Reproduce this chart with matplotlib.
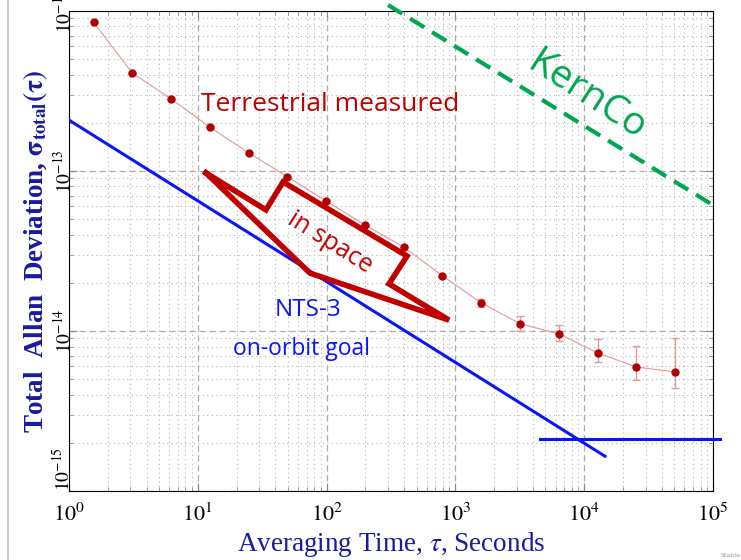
import numpy as np
import matplotlib
matplotlib.use("Agg")
import matplotlib.pyplot as plt
from matplotlib.lines import Line2D

# terrestrial measured total deviation
tau = [1.55, 3.1, 6.2, 12.4, 24.8, 49.6, 99, 198, 397, 794, 1587, 3175, 6350, 12700, 25400, 50800]
sigma = [8.5e-13, 4.1e-13, 2.82e-13, 1.88e-13, 1.30e-13, 9.2e-14, 6.5e-14, 4.6e-14,
         3.35e-14, 2.21e-14, 1.50e-14, 1.11e-14, 9.6e-15, 7.3e-15, 5.96e-15, 5.54e-15]
sig_hi = [8.5e-13, 4.1e-13, 2.82e-13, 1.88e-13, 1.30e-13, 9.2e-14, 6.5e-14, 4.6e-14,
          3.35e-14, 2.21e-14, 1.585e-14, 1.24e-14, 1.09e-14, 8.9e-15, 8.06e-15, 9.0e-15]
sig_lo = [8.5e-13, 4.1e-13, 2.82e-13, 1.88e-13, 1.30e-13, 9.2e-14, 6.5e-14, 4.6e-14,
          3.35e-14, 2.21e-14, 1.41e-14, 1.0e-14, 8.66e-15, 6.4e-15, 4.94e-15, 4.4e-15]

# NTS-3 goal lines
nts_tau = [1.0, 14500]
nts_sig = [2.08e-13, 1.65e-15]
floor_tau = [4540, 1.13e5]
floor_sig = [2.11e-15, 2.11e-15]

# KernCo dashed line
kern_tau = [300, 1.055e5]
kern_sig = [1.09e-12, 5.96e-14]

# "in space" lightning bolt outline
bolt_tau = [11.58, 33.8, 45.9, 421, 305, 892, 74.3, 11.58]
bolt_sig = [9.72e-14, 5.71e-14, 8.54e-14, 2.94e-14, 1.97e-14, 1.17e-14, 2.30e-14, 9.72e-14]

xticks = [1, 10, 100, 1e3, 1e4, 1e5]
xlabels = [r"$10^{%d}$" % i for i in range(6)]
yticks = [1e-15, 1e-14, 1e-13, 1e-12]
ylabels = [r"$10^{-%d}$" % i for i in (15, 14, 13, 12)]

navy = "#1a1aa0"
dred = "#b00000"
blue = "#0a14ff"
green = "#00a651"

plt.rcParams["mathtext.fontset"] = "stix"

fig = plt.figure(figsize=(7.41, 5.60), dpi=100)
ax = fig.add_axes([0.0931, 0.1232, 0.8691, 0.8572])
ax.set_xscale("log")
ax.set_yscale("log")
ax.set_xlim(1, 1e5)
ax.set_ylim(1e-15, 1e-12)

ax.grid(True, which="major", ls=(0, (5, 3)), color="#aaaaaa", lw=0.9)
ax.grid(True, which="minor", ls=(0, (1, 3)), color="#b5b5b5", lw=0.8)
ax.tick_params(which="both", direction="in", top=True, right=True, color="#888888")
ax.tick_params(which="major", length=6)
ax.tick_params(which="minor", length=3)
ax.tick_params(axis="x", which="major", pad=8)
ax.tick_params(axis="y", which="major", pad=-4)

err = [np.array(sigma) - np.array(sig_lo), np.array(sig_hi) - np.array(sigma)]
ax.errorbar(tau, sigma, yerr=err, fmt="none", ecolor="#e09a9a", elinewidth=1, capsize=3, zorder=3)
ax.plot(tau, sigma, color="#e09a9a", lw=0.8, zorder=3)
ax.plot(tau, sigma, "o", color=dred, ms=5, zorder=4)

ax.plot(nts_tau, nts_sig, color=blue, lw=2.2, zorder=3)
ax.plot(floor_tau, floor_sig, color=blue, lw=2.2, zorder=3, clip_on=False)
ax.plot(kern_tau, kern_sig, color=green, lw=3, ls=(0, (4, 2.2)), zorder=3, clip_on=False)
ax.plot(bolt_tau, bolt_sig, color="#c00000", lw=4, solid_joinstyle="miter", zorder=5)

sans = "Open Sans"
ax.text(106, 2.62e-13, "Terrestrial measured", color="#c00000", fontsize=19,
        family=sans, ha="center", va="center")
ax.text(106, 3.55e-14, "in space", color="#c00000", fontsize=18, family=sans,
        rotation=-32, ha="center", va="center")
ax.text(71.7, 1.35e-14, "NTS-3", color=blue, fontsize=17.5, family=sans,
        ha="center", va="center")
ax.text(64.4, 7.72e-15, "on-orbit goal", color=blue, fontsize=16.5, family=sans,
        ha="center", va="center")
ax.text(10500, 2.95e-13, "KernCo", color=green, fontsize=28, family=sans,
        rotation=-33, ha="center", va="center")

ax.set_xticks(xticks)
ax.set_xticklabels(xlabels, fontsize=16)
ax.set_yticks(yticks)
ax.set_yticklabels(ylabels, fontsize=14, rotation=90, va="center")
ax.get_yticklabels()[0].set_va("bottom")
ax.set_xlabel(r"Averaging Time, $\tau$, Seconds", family="Liberation Serif",
              fontsize=19.5, color=navy, labelpad=4)
ax.set_ylabel(r"Total  Allan  Deviation, $\mathbf{\sigma_{total}(\tau)}$",
              family="Liberation Serif", fontweight="bold", fontsize=19.5,
              color=navy, labelpad=2)

fig.add_artist(Line2D([0.011, 0.011], [0.0, 1.0], color="#cccccc", lw=1.5))
fig.text(0.972, 0.003, "Stable32", fontsize=4.5, color="#999999", ha="left", va="bottom")

fig.savefig("out.png", dpi=100)
